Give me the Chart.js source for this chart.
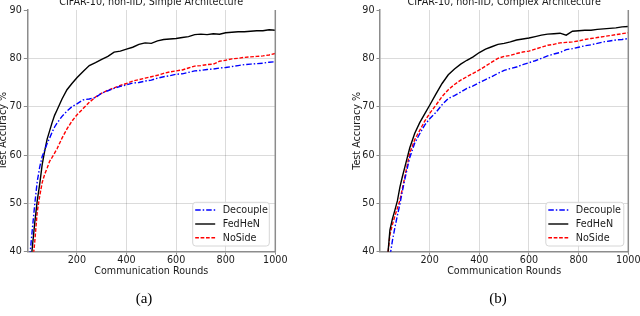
<!DOCTYPE html>
<html><head><meta charset="utf-8">
<script src="https://cdn.jsdelivr.net/npm/chart.js@4.4.0/dist/chart.umd.min.js"></script>
<style>
html,body{margin:0;padding:0;background:#fff;width:640px;height:316px;overflow:hidden;}
.wrap{position:absolute;top:0;width:320px;height:316px;}
.cap{position:absolute;top:298px;font-family:"Liberation Serif",serif;font-size:15px;color:#000;transform:translate(-50%,-50%);white-space:nowrap;}
</style></head><body>
<div class="wrap" style="left:0"><canvas id="c1" width="320" height="316"></canvas></div>
<div class="wrap" style="left:320px"><canvas id="c2" width="320" height="316"></canvas></div>
<div class="cap" style="left:144px">(a)</div>
<div class="cap" style="left:498px">(b)</div>
<script>
const rounds = [10,20,30,40,50,60,70,80,90,100,110,120,140,160,180,200,225,250,275,300,325,350,375,400,425,450,475,500,525,550,575,600,625,650,675,700,725,750,775,800,825,850,875,900,925,950,975,1000];
const xTicks = [200,400,600,800,1000];
const yTicks = [40,50,60,70,80,90];
const seriesNames = ['Decouple','FedHeN','NoSide'];

// (a) Simple architecture
const simpleDecouple = [39,44.5,49.8,54.5,57.5,59.7,61,62.4,63.5,64.7,65.8,66.6,68,69.1,70.0,70.6,71.4,71.6,71.9,72.8,73.3,73.8,74.2,74.5,74.9,75.0,75.3,75.5,75.9,76.2,76.4,76.7,76.8,77.1,77.4,77.5,77.7,77.8,78.0,78.1,78.3,78.5,78.7,78.8,78.9,79.0,79.2,79.3];
const simpleFedHeN = [35,40.8,46,50.5,54,58,60.8,63.3,65,66.7,68.2,69.3,71.6,73.5,74.8,76.0,77.3,78.5,79.1,79.8,80.4,81.3,81.5,81.9,82.3,82.9,83.2,83.1,83.6,83.9,84.0,84.1,84.3,84.5,84.9,85.0,84.9,85.1,85.0,85.3,85.4,85.5,85.5,85.6,85.7,85.7,85.9,85.8];
const simpleNoSide = [33,37,42,48.2,51.5,54.3,56,57.3,58.7,59.5,60.4,61.3,63.5,65.4,67,68.3,69.6,70.9,72,72.8,73.4,73.9,74.4,74.8,75.3,75.6,75.9,76.2,76.5,76.9,77.2,77.4,77.6,78.0,78.4,78.5,78.7,78.8,79.4,79.6,79.9,80.0,80.2,80.3,80.4,80.5,80.7,81.0];

// (b) Complex architecture
const complexDecouple = [28,32,35.5,39,42.3,45,47.5,49.8,52.5,55,57.3,59.5,62.5,64.4,66.2,67.5,68.8,70.4,71.7,72.3,73.0,73.8,74.3,75.0,75.6,76.2,76.9,77.5,77.9,78.2,78.7,79.1,79.5,80.0,80.5,80.9,81.2,81.8,82.0,82.3,82.6,82.8,83.1,83.4,83.6,83.8,83.9,84.1];
const complexFedHeN = [30,34,38.5,44.5,46.8,48.6,50.5,53.3,55.5,57.5,59.5,61.5,64.5,66.7,68.5,70.3,72.6,74.8,76.6,77.8,78.8,79.6,80.3,81.2,81.9,82.4,82.9,83.1,83.4,83.8,84.0,84.2,84.5,84.8,85.0,85.1,85.2,84.8,85.6,85.7,85.8,85.8,86.0,86.1,86.2,86.3,86.5,86.6];
const complexNoSide = [30,34,38.5,43.5,45.6,47.4,49,50.6,53,55.5,58,60.4,63.2,65.1,67,68.6,70.3,72.1,73.5,74.6,75.5,76.2,76.9,77.6,78.4,79.2,80.0,80.4,80.6,81.0,81.3,81.5,81.9,82.3,82.7,82.9,83.2,83.3,83.4,83.6,83.9,84.1,84.3,84.5,84.7,84.9,85.1,85.3];

const FS = 9.6;
Chart.defaults.font.family = "'DejaVu Sans'";
Chart.defaults.font.size = FS;
Chart.defaults.color = '#1a1a1a';

const FONT = FS + "px 'DejaVu Sans'";
const SPINE = '#8c8c8c';
const GRID = 'rgba(0,0,0,0.14)';
const TXT = '#1a1a1a';
const styles = [
  {color:'#0000ff', dash:[5.5,2,1.5,2]},
  {color:'#000000', dash:[]},
  {color:'#ff0000', dash:[3.7,1.7]}
];

function makeChart(id, cfg) {
  const values = cfg.values;
  const datasets = seriesNames.map((name, i) => ({
    label: name,
    data: rounds.map((r, k) => ({x: r, y: values[i][k]})),
    borderColor: styles[i].color,
    borderDash: styles[i].dash,
    borderWidth: 1.4,
    pointRadius: 0,
    tension: 0,
    fill: false,
    clip: 0
  }));
  const extras = {
    id: 'extras',
    afterDatasetsDraw(chart) {
      const ctx = chart.ctx, a = chart.chartArea;
      ctx.save();
      ctx.strokeStyle = SPINE; ctx.lineWidth = 1.5;
      ctx.beginPath(); ctx.moveTo(a.right, a.top); ctx.lineTo(a.right, a.bottom + 0.75); ctx.stroke();
      ctx.fillStyle = TXT; ctx.font = FONT; ctx.textAlign = 'center'; ctx.textBaseline = 'alphabetic';
      ctx.fillText(cfg.title, (a.left + a.right) / 2, 5.3);
      const w = cfg.legW, h = 43.7;
      const x0 = a.right - cfg.legOff - w, y0 = a.bottom - 5.7 - h;
      ctx.beginPath();
      if (ctx.roundRect) ctx.roundRect(x0, y0, w, h, 3); else ctx.rect(x0, y0, w, h);
      ctx.fillStyle = 'rgba(255,255,255,0.85)'; ctx.fill();
      ctx.strokeStyle = '#d6d6d6'; ctx.lineWidth = 1; ctx.stroke();
      const rows = [7.7, 21.7, 35.4];
      seriesNames.forEach((name, i) => {
        const y = y0 + rows[i];
        ctx.strokeStyle = styles[i].color; ctx.lineWidth = 1.4; ctx.setLineDash(styles[i].dash);
        ctx.beginPath(); ctx.moveTo(x0 + 2.5, y); ctx.lineTo(x0 + 22.5, y); ctx.stroke();
        ctx.setLineDash([]);
        ctx.fillStyle = TXT; ctx.font = FONT; ctx.textAlign = 'left'; ctx.textBaseline = 'middle';
        ctx.fillText(name, x0 + 30, y + 0.5);
      });
      ctx.restore();
    }
  };
  return new Chart(document.getElementById(id), {
    type: 'line',
    data: {datasets},
    plugins: [extras],
    options: {
      responsive: false,
      animation: false,
      events: [],
      layout: {padding: {left: cfg.padLeft, right: cfg.padRight, top: 10, bottom: 38.9}},
      plugins: {legend: {display: false}, tooltip: {enabled: false}, title: {display: false}},
      scales: {
        x: {
          type: 'linear', min: 0, max: 1000,
          afterBuildTicks: s => { s.ticks = xTicks.map(v => ({value: v})); },
          afterFit: s => { s.height = 25.4; s.paddingLeft = 0; s.paddingRight = 0; },
          grid: {color: GRID, lineWidth: 1, drawTicks: true, tickLength: 3, tickColor: SPINE, tickWidth: 1},
          border: {display: true, color: SPINE, width: 1.5},
          ticks: {padding: 0, maxRotation: 0, autoSkip: false, color: TXT, font: {size: FS}, callback: v => String(v)},
          title: {display: true, text: 'Communication Rounds', color: TXT, font: {size: FS}, padding: {top: 0, bottom: 0}}
        },
        y: {
          type: 'linear', min: 40, max: 90,
          afterBuildTicks: s => { s.ticks = yTicks.map(v => ({value: v})); },
          afterFit: s => { s.width = cfg.yWidth; s.paddingTop = 0; s.paddingBottom = 0; },
          grid: {color: c => (c.tick && c.tick.value === 90) ? 'rgba(0,0,0,0)' : GRID, lineWidth: 1, drawTicks: true, tickLength: 3.5, tickColor: SPINE, tickWidth: 1},
          border: {display: true, color: SPINE, width: 1.5},
          ticks: {padding: 2, color: TXT, font: {size: FS}, callback: v => String(v)},
          title: {display: true, text: 'Test Accuracy %', color: TXT, font: {size: FS}, padding: {top: cfg.yTitlePad, bottom: 0}}
        }
      }
    }
  });
}

makeChart('c1', {
  title: 'CIFAR-10, non-IID, Simple Architecture',
  values: [simpleDecouple, simpleFedHeN, simpleNoSide],
  padLeft: 0, yWidth: 27.3, padRight: 44.7, yTitlePad: -2,
  legW: 76.6, legOff: 6
});
makeChart('c2', {
  title: 'CIFAR-10, non-IID, Complex Architecture',
  values: [complexDecouple, complexFedHeN, complexNoSide],
  padLeft: 31.4, yWidth: 28.6, padRight: 11.7, yTitlePad: 0,
  legW: 78, legOff: 4.5
});
</script>
</body></html>
